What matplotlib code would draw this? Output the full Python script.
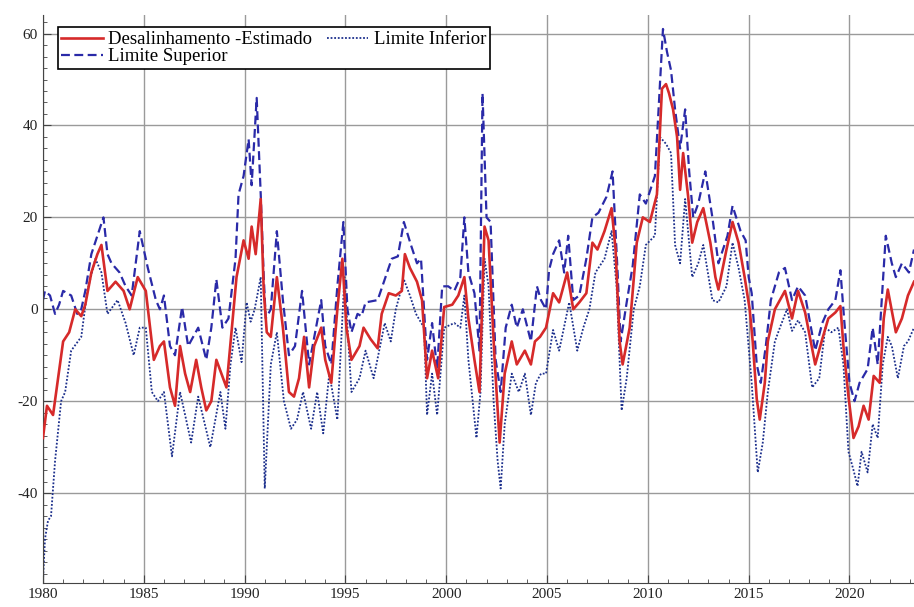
import matplotlib
matplotlib.use("Agg")
import matplotlib.pyplot as plt
from matplotlib.ticker import MultipleLocator

plt.rcParams["axes.unicode_minus"] = False

# ========== Data ==========
est_years = [1980.0, 1980.2, 1980.5, 1980.75, 1981.0, 1981.3, 1981.6, 1981.9, 1982.1, 1982.4,
             1982.7, 1982.9, 1983.2, 1983.6, 1984.0, 1984.3, 1984.7, 1985.1, 1985.5, 1985.8,
             1986.0, 1986.3, 1986.55, 1986.8, 1987.05, 1987.3, 1987.6, 1987.85, 1988.1, 1988.35,
             1988.6, 1988.85, 1989.1, 1989.35, 1989.6, 1989.95, 1990.2, 1990.35, 1990.55, 1990.8,
             1990.95, 1991.1, 1991.3, 1991.6, 1991.9, 1992.2, 1992.45, 1992.7, 1992.95, 1993.2,
             1993.45, 1993.8, 1994.0, 1994.3, 1994.6, 1994.85, 1995.05, 1995.3, 1995.7, 1995.9,
             1996.25, 1996.6, 1996.8, 1997.15, 1997.5, 1997.8, 1997.95, 1998.2, 1998.55, 1998.8,
             1999.05, 1999.3, 1999.6, 1999.9, 2000.3, 2000.6, 2000.9, 2001.1, 2001.4, 2001.65,
             2001.9, 2002.1, 2002.4, 2002.65, 2002.9, 2003.25, 2003.5, 2003.9, 2004.2, 2004.4,
             2004.65, 2004.95, 2005.3, 2005.6, 2006.0, 2006.3, 2006.6, 2006.95, 2007.25, 2007.5,
             2007.85, 2008.2, 2008.4, 2008.6, 2008.75, 2009.1, 2009.45, 2009.75, 2010.1, 2010.45,
             2010.7, 2010.9, 2011.05, 2011.25, 2011.45, 2011.6, 2011.75, 2012.0, 2012.2, 2012.45,
             2012.75, 2013.1, 2013.35, 2013.5, 2013.9, 2014.2, 2014.5, 2014.8, 2015.05, 2015.2,
             2015.4, 2015.55, 2015.8, 2015.95, 2016.3, 2016.55, 2016.8, 2017.15, 2017.45, 2017.8,
             2018.3, 2018.65, 2018.95, 2019.3, 2019.55, 2019.7, 2019.95, 2020.2, 2020.45, 2020.7,
             2020.95, 2021.2, 2021.5, 2021.7, 2021.9, 2022.3, 2022.6, 2022.9, 2023.2]
est_vals = [-28, -21, -23, -15, -7, -5, 0, -1.5, 1, 8,
            12, 14, 4, 6, 4, 0, 7, 4, -11, -8,
            -7, -17, -21, -8, -14, -18, -11, -17, -22, -20,
            -11, -14, -17, -5, 7, 15, 11, 18, 12, 24,
            4, -5, -6, 7, -4, -18, -19, -15, -6, -17,
            -8, -4, -11, -16, 0, 11, -4, -11, -8, -4,
            -6.5, -8.5, -1, 3.5, 3, 4, 12, 9, 6, 2,
            -15, -9, -15, 0.5, 1, 3, 7, -2, -11, -18,
            18, 15, -11, -29, -14, -7, -12, -9, -12, -7,
            -6, -4, 3.5, 1.5, 8, 0, 1.5, 3.5, 14.5, 13,
            17, 22, 13, -7, -12, -4, 14.5, 20, 19, 25,
            48, 49, 47, 43.5, 37.5, 26, 34, 24.5, 14.5, 19,
            22, 14.5, 7, 4.3, 13, 19, 14.5, 7, 0, -7,
            -19.5, -24, -16, -7, 0, 2, 4, -2, 4, -0.7,
            -12, -6.5, -2, -0.7, 0.7, -8, -19, -28, -25.5, -21,
            -24, -14.5, -16, -2, 4.3, -5, -2, 3, 6]

sup_years = [1980.0, 1980.1, 1980.35, 1980.6, 1980.8, 1981.0, 1981.4, 1981.7, 1981.9, 1982.1,
             1982.4, 1982.7, 1983.0, 1983.2, 1983.4, 1983.8, 1984.1, 1984.4, 1984.8, 1985.0,
             1985.2, 1985.6, 1985.8, 1986.0, 1986.3, 1986.55, 1986.9, 1987.2, 1987.45, 1987.7,
             1988.1, 1988.35, 1988.6, 1988.9, 1989.2, 1989.55, 1989.7, 1989.95, 1990.2, 1990.35,
             1990.6, 1990.8, 1990.95, 1991.05, 1991.3, 1991.6, 1991.9, 1992.2, 1992.5, 1992.85,
             1993.2, 1993.5, 1993.8, 1994.0, 1994.3, 1994.6, 1994.9, 1995.1, 1995.3, 1995.6,
             1995.8, 1996.0, 1996.6, 1996.95, 1997.3, 1997.6, 1997.9, 1998.25, 1998.55, 1998.75,
             1999.05, 1999.3, 1999.55, 1999.8, 2000.1, 2000.4, 2000.7, 2000.9, 2001.1, 2001.4,
             2001.65, 2001.8, 2002.0, 2002.2, 2002.45, 2002.7, 2002.95, 2003.25, 2003.5, 2003.8,
             2004.2, 2004.5, 2004.7, 2004.95, 2005.1, 2005.3, 2005.6, 2005.85, 2006.05, 2006.3,
             2006.6, 2006.95, 2007.25, 2007.55, 2007.95, 2008.25, 2008.5, 2008.65, 2008.95, 2009.25,
             2009.6, 2009.9, 2010.35, 2010.75, 2010.95, 2011.15, 2011.35, 2011.6, 2011.85, 2012.05,
             2012.25, 2012.5, 2012.85, 2013.2, 2013.5, 2013.95, 2014.2, 2014.6, 2014.85, 2015.0,
             2015.15, 2015.4, 2015.6, 2015.85, 2016.1, 2016.5, 2016.8, 2017.15, 2017.45, 2017.8,
             2018.3, 2018.65, 2018.95, 2019.3, 2019.55, 2019.75, 2020.0, 2020.25, 2020.5, 2020.9,
             2021.15, 2021.4, 2021.6, 2021.8, 2022.1, 2022.3, 2022.6, 2022.95, 2023.2]
sup_vals = [2, 4, 3, -1, 1, 4, 3, -1, 0, 4,
            12, 16, 20, 12, 10, 8, 5, 3, 17, 13,
            9, 2, 0, 3, -8, -10, 0.5, -8, -6, -4,
            -11, -4, 6.5, -4, -2, 11, 25, 29, 37, 27,
            46, 25, 7, -2, 0, 17, 2, -10, -8, 4,
            -12, -5, 2, -8, -12, 5, 19, 0, -5, -1,
            -1.5, 1.5, 2, 6.5, 11, 11.5, 19, 14, 10, 11,
            -11, -3, -13, 5, 5, 4, 7, 20, 8, 3.5,
            -9, 47, 20, 19, -11, -18, -4, 1, -4, 0,
            -7, 5, 2, 0, 8.5, 12, 15, 8, 16, 2,
            3, 11, 20, 21, 24.5, 30, 8, -7, 1.5, 9.5,
            25, 23, 29, 61, 56, 52, 43.5, 35, 43.5, 30,
            20, 23, 30, 20, 10, 16, 22.5, 17, 15, 7,
            3.5, -12, -16, -8, 2, 8, 9, 2, 5, 3,
            -9, -3, 0, 2, 8.5, -3, -16, -20, -16, -13,
            -4, -12, 2, 16, 10, 7, 10, 8, 13]

inf_years = [1980.0, 1980.1, 1980.25, 1980.4, 1980.6, 1980.9, 1981.1, 1981.4, 1981.9, 1982.2,
             1982.6, 1982.9, 1983.2, 1983.7, 1984.1, 1984.5, 1984.8, 1985.1, 1985.4, 1985.7,
             1986.0, 1986.4, 1986.8, 1987.35, 1987.7, 1988.3, 1988.8, 1989.05, 1989.3, 1989.55,
             1989.85, 1990.1, 1990.3, 1990.5, 1990.8, 1991.0, 1991.3, 1991.6, 1991.95, 1992.3,
             1992.6, 1992.9, 1993.3, 1993.6, 1993.9, 1994.2, 1994.6, 1994.95, 1995.3, 1995.7,
             1996.0, 1996.4, 1996.95, 1997.25, 1997.5, 1997.9, 1998.2, 1998.5, 1998.9, 1999.05,
             1999.3, 1999.55, 1999.9, 2000.4, 2000.7, 2000.9, 2001.1, 2001.5, 2001.7, 2001.9,
             2002.1, 2002.35, 2002.55, 2002.7, 2002.9, 2003.25, 2003.6, 2003.9, 2004.2, 2004.45,
             2004.7, 2004.95, 2005.3, 2005.6, 2006.1, 2006.5, 2006.8, 2007.1, 2007.4, 2007.85,
             2008.2, 2008.45, 2008.7, 2008.95, 2009.3, 2009.6, 2009.9, 2010.35, 2010.6, 2010.9,
             2011.15, 2011.35, 2011.6, 2011.85, 2012.2, 2012.5, 2012.75, 2013.2, 2013.5, 2013.9,
             2014.2, 2014.5, 2014.8, 2015.15, 2015.45, 2015.7, 2015.95, 2016.3, 2016.55, 2016.9,
             2017.15, 2017.45, 2017.8, 2018.15, 2018.5, 2018.8, 2019.1, 2019.45, 2019.7, 2019.95,
             2020.2, 2020.4, 2020.6, 2020.9, 2021.15, 2021.4, 2021.65, 2021.9, 2022.1, 2022.4,
             2022.7, 2022.9, 2023.2]
inf_vals = [-59, -50, -46, -45, -33, -20, -18, -9, -6, 4,
            11, 8, -1, 2, -3, -10, -4, -4, -18, -20,
            -18, -32, -18, -29, -19, -30, -18, -26, -12, -4,
            -11.5, 1.5, -2.7, 0, 7, -39, -12, -5, -20, -26,
            -24, -18, -26, -18, -27, -14, -24, 7, -18, -15,
            -9, -15, -3, -7, 0, 6.5, 3, -1, -4, -23,
            -14, -23, -4, -3, -4, 3, -11, -28, -18, 11,
            5, -20, -33, -39, -25, -14, -18, -14, -23, -16,
            -14, -14, -4.5, -9, 1.5, -9, -4, 0, 8, 11,
            17, 5, -22, -15, 0, 5, 14, 16, 37.5, 36,
            34, 14, 10, 24, 7, 10, 14, 2, 1.5, 5,
            14.5, 9, 2, -16, -35.5, -29, -18, -7, -4, 0,
            -4.7, -2.4, -5, -17, -15, -4, -5, -4, -12, -31,
            -35, -38.5, -31, -35.5, -25, -28, -12, -6, -8, -15,
            -8, -7, -4]

RED = "#d62a2a"
BLUE = "#2a2aa8"
DARK_BLUE = "#1c2f8c"
SERIF = ["Liberation Serif", "DejaVu Serif"]

# ========== Plotting ==========
fig = plt.figure(figsize=(9.14, 6.07), dpi=100)
ax = fig.add_axes([0.047, 0.04, 0.953, 0.935])

ax.plot(est_years, est_vals, color=RED, lw=1.9, label="Desalinhamento -Estimado", zorder=3)
ax.plot(sup_years, sup_vals, color=BLUE, lw=1.6, ls=(0, (4, 2)), label="Limite Superior", zorder=2)
ax.plot(inf_years, inf_vals, color=DARK_BLUE, lw=1.3, ls=(0, (1, 1)), label="Limite Inferior", zorder=2)

ax.set_xlim(1980, 2023.2)
ax.set_ylim(-59.5, 64)
ax.xaxis.set_major_locator(MultipleLocator(5))
ax.xaxis.set_minor_locator(MultipleLocator(1))
ax.yaxis.set_major_locator(MultipleLocator(20))
ax.yaxis.set_minor_locator(MultipleLocator(2.5))
ax.grid(True, which="major", color="#9a9a9a", lw=1.0)
ax.set_axisbelow(True)

for side in ["top", "right"]:
    ax.spines[side].set_visible(False)
for side in ["left", "bottom"]:
    ax.spines[side].set_color("#444444")

ax.tick_params(which="both", direction="in", colors="#444444", labelcolor="#222222")
ax.tick_params(which="major", length=6)
ax.tick_params(which="minor", length=3)
for lbl in ax.get_xticklabels() + ax.get_yticklabels():
    lbl.set_family(SERIF)
    lbl.set_fontsize(11)

leg = ax.legend(loc="upper left", ncol=2, bbox_to_anchor=(0.006, 0.995),
                prop={"family": SERIF, "size": 13.5}, frameon=True, fancybox=False,
                edgecolor="black", framealpha=1, borderpad=0.2, handlelength=2.2,
                handletextpad=0.3, columnspacing=0.8, labelspacing=0.0)
leg.get_frame().set_linewidth(1.2)

fig.savefig("out.png", dpi=100)
